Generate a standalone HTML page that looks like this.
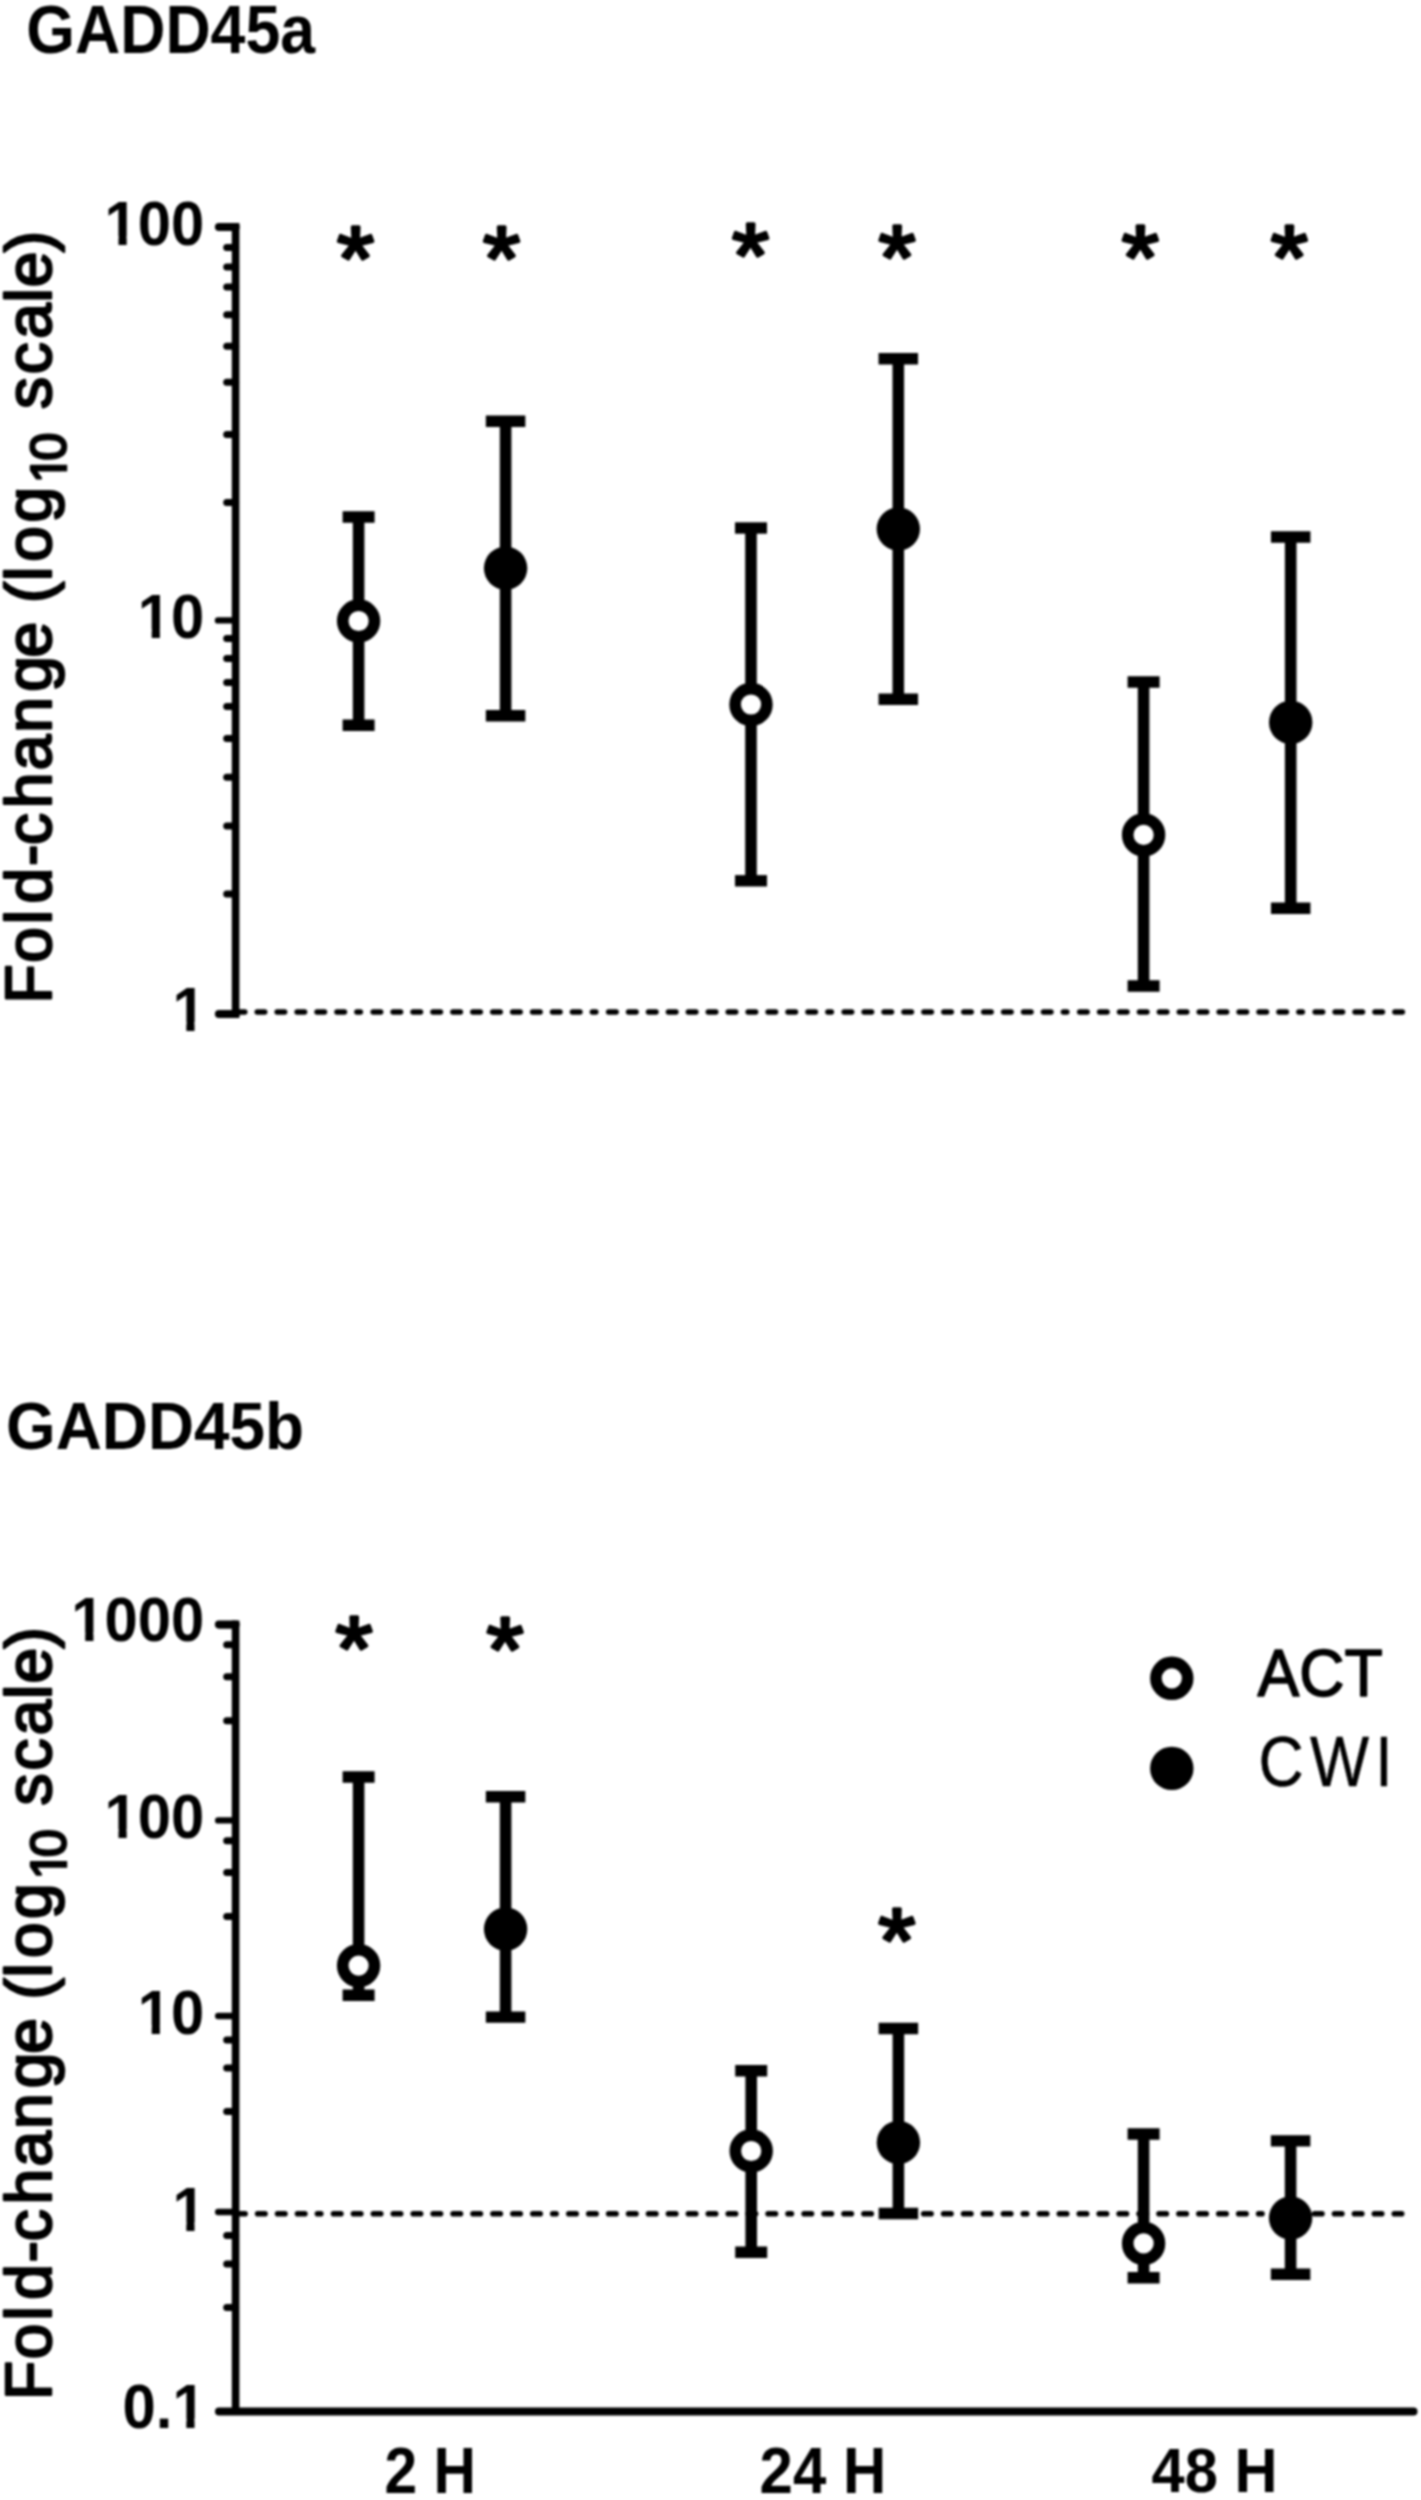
<!DOCTYPE html>
<html lang="en"><head><meta charset="utf-8"><title>GADD45a / GADD45b fold-change</title>
<style>html,body{margin:0;padding:0;background:#fff}body{width:1421px;height:2500px;overflow:hidden}svg{display:block}text{font-family:'Liberation Sans',Arial,Helvetica,sans-serif;fill:#000}</style></head><body>
<svg width="1421" height="2500" viewBox="0 0 1421 2500">
<rect width="1421" height="2500" fill="#fff"/>
<defs><filter id="soft" filterUnits="userSpaceOnUse" x="0" y="0" width="1421" height="2500" color-interpolation-filters="sRGB"><feGaussianBlur stdDeviation="0.85"/></filter></defs>
<g filter="url(#soft)">
<rect width="1421" height="2500" fill="#fff"/>
<g id="chart-a">
<text transform="translate(26.19,52.72) scale(1,1.0856)" font-size="62.66" font-weight="bold" stroke="#000" stroke-width="0.0" stroke-linejoin="round">GADD45a</text>
<g transform="translate(50.80,1000.00) rotate(-90)">
<text y="0" font-size="64.0" stroke="#000" stroke-width="2.4" stroke-linejoin="round" x="-3.4 37.2 75.8 96.6 134.0 155.1 191.8 229.8 267.3 308.2 342.6 391.6 396.9 419.0 438.3 477.4">Fold-change (log<tspan font-size="50.0" dy="15.6" x="517.1 539.5">10</tspan><tspan dy="-15.6" x="19.2 591.0 625.8 661.2 697.4 712.8 747.8"> scale)</tspan></text>
<rect x="517.95" y="10.20" width="10.65" height="7.40" fill="#fff"/>
<polygon points="535.35,10.20 543.00,10.20 544.50,14.79 544.50,17.60 535.35,17.60" fill="#fff"/>
</g>
<line x1="237.35" y1="1012.00" x2="360.30" y2="1012.00" stroke="#000" stroke-width="5.6" stroke-dasharray="7.4 12.53" stroke-linecap="round"/>
<line x1="373.20" y1="1012.00" x2="595.80" y2="1012.00" stroke="#000" stroke-width="5.6" stroke-dasharray="7.4 12.53" stroke-linecap="round"/>
<line x1="608.70" y1="1012.00" x2="831.30" y2="1012.00" stroke="#000" stroke-width="5.6" stroke-dasharray="7.4 12.53" stroke-linecap="round"/>
<line x1="844.20" y1="1012.00" x2="1066.80" y2="1012.00" stroke="#000" stroke-width="5.6" stroke-dasharray="7.4 12.53" stroke-linecap="round"/>
<line x1="1079.70" y1="1012.00" x2="1302.30" y2="1012.00" stroke="#000" stroke-width="5.6" stroke-dasharray="7.4 12.53" stroke-linecap="round"/>
<line x1="1315.20" y1="1012.00" x2="1402.32" y2="1012.00" stroke="#000" stroke-width="5.6" stroke-dasharray="7.4 12.53" stroke-linecap="round"/>
<line x1="235.60" y1="222.90" x2="235.60" y2="1018.10" stroke="#000" stroke-width="7.6" />
<line x1="219.00" y1="227.00" x2="235.60" y2="227.00" stroke="#000" stroke-width="8.2" stroke-linecap="round"/>
<line x1="219.00" y1="1014.00" x2="235.60" y2="1014.00" stroke="#000" stroke-width="8.2" stroke-linecap="round"/>
<line x1="218.00" y1="620.40" x2="235.60" y2="620.40" stroke="#000" stroke-width="6.4" stroke-linecap="round"/>
<line x1="226.70" y1="247.40" x2="235.60" y2="247.40" stroke="#000" stroke-width="7.0" stroke-linecap="round"/>
<line x1="226.70" y1="267.00" x2="235.60" y2="267.00" stroke="#000" stroke-width="7.0" stroke-linecap="round"/>
<line x1="226.70" y1="287.00" x2="235.60" y2="287.00" stroke="#000" stroke-width="7.0" stroke-linecap="round"/>
<line x1="226.70" y1="314.80" x2="235.60" y2="314.80" stroke="#000" stroke-width="7.0" stroke-linecap="round"/>
<line x1="226.70" y1="346.20" x2="235.60" y2="346.20" stroke="#000" stroke-width="7.0" stroke-linecap="round"/>
<line x1="226.70" y1="382.20" x2="235.60" y2="382.20" stroke="#000" stroke-width="7.0" stroke-linecap="round"/>
<line x1="226.70" y1="434.60" x2="235.60" y2="434.60" stroke="#000" stroke-width="7.0" stroke-linecap="round"/>
<line x1="226.70" y1="502.60" x2="235.60" y2="502.60" stroke="#000" stroke-width="7.0" stroke-linecap="round"/>
<line x1="226.70" y1="638.40" x2="235.60" y2="638.40" stroke="#000" stroke-width="7.0" stroke-linecap="round"/>
<line x1="226.70" y1="658.40" x2="235.60" y2="658.40" stroke="#000" stroke-width="7.0" stroke-linecap="round"/>
<line x1="226.70" y1="682.40" x2="235.60" y2="682.40" stroke="#000" stroke-width="7.0" stroke-linecap="round"/>
<line x1="226.70" y1="706.40" x2="235.60" y2="706.40" stroke="#000" stroke-width="7.0" stroke-linecap="round"/>
<line x1="226.70" y1="738.40" x2="235.60" y2="738.40" stroke="#000" stroke-width="7.0" stroke-linecap="round"/>
<line x1="226.70" y1="777.20" x2="235.60" y2="777.20" stroke="#000" stroke-width="7.0" stroke-linecap="round"/>
<line x1="226.70" y1="826.00" x2="235.60" y2="826.00" stroke="#000" stroke-width="7.0" stroke-linecap="round"/>
<line x1="226.70" y1="894.00" x2="235.60" y2="894.00" stroke="#000" stroke-width="7.0" stroke-linecap="round"/>
<text transform="translate(104.56,245.07) scale(1,1.0605)" font-size="59.76" font-weight="bold" stroke="#000" stroke-width="0.0" stroke-linejoin="round">100</text>
<rect x="106.36" y="236.12" width="12.13" height="10.85" fill="#fff"/>
<rect x="126.68" y="236.12" width="11.36" height="10.85" fill="#fff"/>
<text transform="translate(137.79,637.97) scale(1,1.0605)" font-size="59.76" font-weight="bold" stroke="#000" stroke-width="0.0" stroke-linejoin="round">10</text>
<rect x="139.59" y="629.02" width="12.13" height="10.85" fill="#fff"/>
<rect x="159.91" y="629.02" width="11.36" height="10.85" fill="#fff"/>
<text transform="translate(172.42,1030.80) scale(1,1.0605)" font-size="59.76" font-weight="bold" stroke="#000" stroke-width="0.0" stroke-linejoin="round">1</text>
<rect x="174.21" y="1021.85" width="12.13" height="10.85" fill="#fff"/>
<rect x="194.53" y="1021.85" width="11.36" height="10.85" fill="#fff"/>
<line x1="358.60" y1="517.00" x2="358.60" y2="725.30" stroke="#000" stroke-width="11.6" />
<line x1="342.60" y1="517.00" x2="374.60" y2="517.00" stroke="#000" stroke-width="11.4" />
<line x1="342.60" y1="725.30" x2="374.60" y2="725.30" stroke="#000" stroke-width="11.4" />
<circle cx="358.60" cy="621.00" r="15.90" fill="#fff" stroke="#000" stroke-width="11.6"/>
<line x1="751.00" y1="528.00" x2="751.00" y2="880.80" stroke="#000" stroke-width="11.6" />
<line x1="735.00" y1="528.00" x2="767.00" y2="528.00" stroke="#000" stroke-width="11.4" />
<line x1="735.00" y1="880.80" x2="767.00" y2="880.80" stroke="#000" stroke-width="11.4" />
<circle cx="751.00" cy="704.50" r="15.90" fill="#fff" stroke="#000" stroke-width="11.6"/>
<line x1="1143.60" y1="682.00" x2="1143.60" y2="986.00" stroke="#000" stroke-width="11.6" />
<line x1="1127.60" y1="682.00" x2="1159.60" y2="682.00" stroke="#000" stroke-width="11.4" />
<line x1="1127.60" y1="986.00" x2="1159.60" y2="986.00" stroke="#000" stroke-width="11.4" />
<circle cx="1143.60" cy="834.90" r="15.90" fill="#fff" stroke="#000" stroke-width="11.6"/>
<line x1="505.60" y1="421.20" x2="505.60" y2="715.80" stroke="#000" stroke-width="11.6" />
<line x1="485.85" y1="421.20" x2="525.35" y2="421.20" stroke="#000" stroke-width="11.4" />
<line x1="485.85" y1="715.80" x2="525.35" y2="715.80" stroke="#000" stroke-width="11.4" />
<circle cx="505.60" cy="568.20" r="21.70" fill="#000"/>
<line x1="898.30" y1="358.70" x2="898.30" y2="699.20" stroke="#000" stroke-width="11.6" />
<line x1="878.55" y1="358.70" x2="918.05" y2="358.70" stroke="#000" stroke-width="11.4" />
<line x1="878.55" y1="699.20" x2="918.05" y2="699.20" stroke="#000" stroke-width="11.4" />
<circle cx="898.30" cy="529.00" r="21.70" fill="#000"/>
<line x1="1290.70" y1="537.00" x2="1290.70" y2="908.20" stroke="#000" stroke-width="11.6" />
<line x1="1270.95" y1="537.00" x2="1310.45" y2="537.00" stroke="#000" stroke-width="11.4" />
<line x1="1270.95" y1="908.20" x2="1310.45" y2="908.20" stroke="#000" stroke-width="11.4" />
<circle cx="1290.70" cy="722.40" r="21.70" fill="#000"/>
<text transform="translate(336.92,289.83) scale(1,0.9604)" font-size="95.49" font-weight="normal" stroke="#000" stroke-width="3.5" stroke-linejoin="round">*</text>
<text transform="translate(482.92,289.83) scale(1,0.9604)" font-size="95.49" font-weight="normal" stroke="#000" stroke-width="3.5" stroke-linejoin="round">*</text>
<text transform="translate(732.02,287.03) scale(1,0.9604)" font-size="95.49" font-weight="normal" stroke="#000" stroke-width="3.5" stroke-linejoin="round">*</text>
<text transform="translate(878.62,289.33) scale(1,0.9604)" font-size="95.49" font-weight="normal" stroke="#000" stroke-width="3.5" stroke-linejoin="round">*</text>
<text transform="translate(1121.82,289.33) scale(1,0.9604)" font-size="95.49" font-weight="normal" stroke="#000" stroke-width="3.5" stroke-linejoin="round">*</text>
<text transform="translate(1270.72,289.33) scale(1,0.9604)" font-size="95.49" font-weight="normal" stroke="#000" stroke-width="3.5" stroke-linejoin="round">*</text>
</g>
<g id="chart-b">
<text transform="translate(6.05,1448.84) scale(1,1.0312)" font-size="63.86" font-weight="bold" stroke="#000" stroke-width="0.0" stroke-linejoin="round">GADD45b</text>
<g transform="translate(50.80,2396.40) rotate(-90)">
<text y="0" font-size="64.0" stroke="#000" stroke-width="2.4" stroke-linejoin="round" x="-3.5 37.2 75.8 96.6 134.0 155.1 191.8 229.8 267.3 308.2 342.6 391.6 396.9 419.0 438.3 477.4">Fold-change (log<tspan font-size="50.0" dy="15.6" x="517.2 539.5">10</tspan><tspan dy="-15.6" x="19.2 591.0 625.8 661.2 697.4 712.8 747.8"> scale)</tspan></text>
<rect x="517.95" y="10.20" width="10.65" height="7.40" fill="#fff"/>
<polygon points="535.35,10.20 543.00,10.20 544.50,14.79 544.50,17.60 535.35,17.60" fill="#fff"/>
</g>
<line x1="237.71" y1="2213.80" x2="320.80" y2="2213.80" stroke="#000" stroke-width="5.6" stroke-dasharray="7.4 12.53" stroke-linecap="round"/>
<line x1="333.50" y1="2213.80" x2="556.10" y2="2213.80" stroke="#000" stroke-width="5.6" stroke-dasharray="7.4 12.53" stroke-linecap="round"/>
<line x1="568.80" y1="2213.80" x2="791.40" y2="2213.80" stroke="#000" stroke-width="5.6" stroke-dasharray="7.4 12.53" stroke-linecap="round"/>
<line x1="804.10" y1="2213.80" x2="1026.70" y2="2213.80" stroke="#000" stroke-width="5.6" stroke-dasharray="7.4 12.53" stroke-linecap="round"/>
<line x1="1039.40" y1="2213.80" x2="1262.00" y2="2213.80" stroke="#000" stroke-width="5.6" stroke-dasharray="7.4 12.53" stroke-linecap="round"/>
<line x1="1274.70" y1="2213.80" x2="1401.68" y2="2213.80" stroke="#000" stroke-width="5.6" stroke-dasharray="7.4 12.53" stroke-linecap="round"/>
<line x1="235.60" y1="1620.50" x2="235.60" y2="2411.50" stroke="#000" stroke-width="7.6" />
<line x1="219.00" y1="2411.50" x2="1413.50" y2="2411.50" stroke="#000" stroke-width="8.0" stroke-linecap="round"/>
<line x1="219.00" y1="1624.60" x2="235.60" y2="1624.60" stroke="#000" stroke-width="8.2" stroke-linecap="round"/>
<line x1="218.20" y1="1820.40" x2="235.60" y2="1820.40" stroke="#000" stroke-width="6.4" stroke-linecap="round"/>
<line x1="218.20" y1="2016.00" x2="235.60" y2="2016.00" stroke="#000" stroke-width="6.4" stroke-linecap="round"/>
<line x1="218.20" y1="2212.00" x2="235.60" y2="2212.00" stroke="#000" stroke-width="6.4" stroke-linecap="round"/>
<line x1="226.70" y1="1644.80" x2="235.60" y2="1644.80" stroke="#000" stroke-width="7.0" stroke-linecap="round"/>
<line x1="226.70" y1="1676.80" x2="235.60" y2="1676.80" stroke="#000" stroke-width="7.0" stroke-linecap="round"/>
<line x1="226.70" y1="1720.80" x2="235.60" y2="1720.80" stroke="#000" stroke-width="7.0" stroke-linecap="round"/>
<line x1="226.70" y1="1840.80" x2="235.60" y2="1840.80" stroke="#000" stroke-width="7.0" stroke-linecap="round"/>
<line x1="226.70" y1="1872.40" x2="235.60" y2="1872.40" stroke="#000" stroke-width="7.0" stroke-linecap="round"/>
<line x1="226.70" y1="1916.40" x2="235.60" y2="1916.40" stroke="#000" stroke-width="7.0" stroke-linecap="round"/>
<line x1="226.70" y1="2040.00" x2="235.60" y2="2040.00" stroke="#000" stroke-width="7.0" stroke-linecap="round"/>
<line x1="226.70" y1="2068.00" x2="235.60" y2="2068.00" stroke="#000" stroke-width="7.0" stroke-linecap="round"/>
<line x1="226.70" y1="2111.60" x2="235.60" y2="2111.60" stroke="#000" stroke-width="7.0" stroke-linecap="round"/>
<line x1="226.70" y1="2235.60" x2="235.60" y2="2235.60" stroke="#000" stroke-width="7.0" stroke-linecap="round"/>
<line x1="226.70" y1="2264.00" x2="235.60" y2="2264.00" stroke="#000" stroke-width="7.0" stroke-linecap="round"/>
<line x1="226.70" y1="2307.60" x2="235.60" y2="2307.60" stroke="#000" stroke-width="7.0" stroke-linecap="round"/>
<text transform="translate(71.33,1641.37) scale(1,1.0605)" font-size="59.76" font-weight="bold" stroke="#000" stroke-width="0.0" stroke-linejoin="round">1000</text>
<rect x="73.13" y="1632.42" width="12.13" height="10.85" fill="#fff"/>
<rect x="93.45" y="1632.42" width="11.36" height="10.85" fill="#fff"/>
<text transform="translate(104.56,1838.17) scale(1,1.0605)" font-size="59.76" font-weight="bold" stroke="#000" stroke-width="0.0" stroke-linejoin="round">100</text>
<rect x="106.36" y="1829.22" width="12.13" height="10.85" fill="#fff"/>
<rect x="126.68" y="1829.22" width="11.36" height="10.85" fill="#fff"/>
<text transform="translate(137.79,2033.87) scale(1,1.0605)" font-size="59.76" font-weight="bold" stroke="#000" stroke-width="0.0" stroke-linejoin="round">10</text>
<rect x="139.59" y="2024.92" width="12.13" height="10.85" fill="#fff"/>
<rect x="159.91" y="2024.92" width="11.36" height="10.85" fill="#fff"/>
<text transform="translate(172.42,2231.40) scale(1,1.0605)" font-size="59.76" font-weight="bold" stroke="#000" stroke-width="0.0" stroke-linejoin="round">1</text>
<rect x="174.21" y="2222.45" width="12.13" height="10.85" fill="#fff"/>
<rect x="194.53" y="2222.45" width="11.36" height="10.85" fill="#fff"/>
<text transform="translate(122.58,2427.60) scale(1,1.0605)" font-size="59.76" font-weight="bold" stroke="#000" stroke-width="0.0" stroke-linejoin="round">0.1</text>
<rect x="174.21" y="2418.65" width="12.13" height="10.85" fill="#fff"/>
<rect x="194.53" y="2418.65" width="11.36" height="10.85" fill="#fff"/>
<line x1="358.60" y1="1777.00" x2="358.60" y2="1995.20" stroke="#000" stroke-width="11.6" />
<line x1="342.60" y1="1777.00" x2="374.60" y2="1777.00" stroke="#000" stroke-width="11.4" />
<line x1="342.60" y1="1995.20" x2="374.60" y2="1995.20" stroke="#000" stroke-width="11.4" />
<circle cx="358.60" cy="1965.60" r="15.90" fill="#fff" stroke="#000" stroke-width="11.6"/>
<line x1="751.20" y1="2070.80" x2="751.20" y2="2252.30" stroke="#000" stroke-width="11.6" />
<line x1="735.20" y1="2070.80" x2="767.20" y2="2070.80" stroke="#000" stroke-width="11.4" />
<line x1="735.20" y1="2252.30" x2="767.20" y2="2252.30" stroke="#000" stroke-width="11.4" />
<circle cx="751.20" cy="2151.00" r="15.90" fill="#fff" stroke="#000" stroke-width="11.6"/>
<line x1="1143.60" y1="2134.00" x2="1143.60" y2="2277.80" stroke="#000" stroke-width="11.6" />
<line x1="1127.60" y1="2134.00" x2="1159.60" y2="2134.00" stroke="#000" stroke-width="11.4" />
<line x1="1127.60" y1="2277.80" x2="1159.60" y2="2277.80" stroke="#000" stroke-width="11.4" />
<circle cx="1143.60" cy="2243.40" r="15.90" fill="#fff" stroke="#000" stroke-width="11.6"/>
<line x1="505.60" y1="1796.70" x2="505.60" y2="2017.10" stroke="#000" stroke-width="11.6" />
<line x1="485.85" y1="1796.70" x2="525.35" y2="1796.70" stroke="#000" stroke-width="11.4" />
<line x1="485.85" y1="2017.10" x2="525.35" y2="2017.10" stroke="#000" stroke-width="11.4" />
<circle cx="505.60" cy="1929.10" r="21.70" fill="#000"/>
<line x1="898.40" y1="2028.50" x2="898.40" y2="2213.50" stroke="#000" stroke-width="11.6" />
<line x1="878.65" y1="2028.50" x2="918.15" y2="2028.50" stroke="#000" stroke-width="11.4" />
<line x1="878.65" y1="2213.50" x2="918.15" y2="2213.50" stroke="#000" stroke-width="11.4" />
<circle cx="898.40" cy="2142.50" r="21.70" fill="#000"/>
<line x1="1290.60" y1="2140.90" x2="1290.60" y2="2274.30" stroke="#000" stroke-width="11.6" />
<line x1="1270.85" y1="2140.90" x2="1310.35" y2="2140.90" stroke="#000" stroke-width="11.4" />
<line x1="1270.85" y1="2274.30" x2="1310.35" y2="2274.30" stroke="#000" stroke-width="11.4" />
<circle cx="1290.60" cy="2218.00" r="21.70" fill="#000"/>
<text transform="translate(335.42,1679.73) scale(1,0.9604)" font-size="95.49" font-weight="normal" stroke="#000" stroke-width="3.5" stroke-linejoin="round">*</text>
<text transform="translate(486.62,1681.13) scale(1,0.9604)" font-size="95.49" font-weight="normal" stroke="#000" stroke-width="3.5" stroke-linejoin="round">*</text>
<text transform="translate(878.32,1972.33) scale(1,0.9604)" font-size="95.49" font-weight="normal" stroke="#000" stroke-width="3.5" stroke-linejoin="round">*</text>
<circle cx="1171.80" cy="1678.30" r="15.90" fill="#fff" stroke="#000" stroke-width="11.6"/>
<circle cx="1171.80" cy="1768.40" r="21.70" fill="#000"/>
<text transform="translate(1257.54,1696.38) scale(1,1.0779)" font-size="62.59" font-weight="normal" stroke="#000" stroke-width="1.5" stroke-linejoin="round">ACT</text>
<text transform="translate(1258.57,1786.20) scale(1,1.1162)" font-size="62.59" font-weight="normal" letter-spacing="6.22" stroke="#000" stroke-width="0.4" stroke-linejoin="round">CWI</text>
<text transform="translate(384.44,2492.70) scale(1,1.0940)" font-size="58.76" font-weight="bold" stroke="#000" stroke-width="0.0" stroke-linejoin="round">2 H</text>
<text transform="translate(759.60,2493.00) scale(1,1.0771)" font-size="59.95" font-weight="bold" stroke="#000" stroke-width="0.0" stroke-linejoin="round">24 H</text>
<text transform="translate(1151.61,2492.36) scale(1,1.0680)" font-size="59.61" font-weight="bold" stroke="#000" stroke-width="0.0" stroke-linejoin="round">48 H</text>
</g>
</g>
</svg></body></html>
